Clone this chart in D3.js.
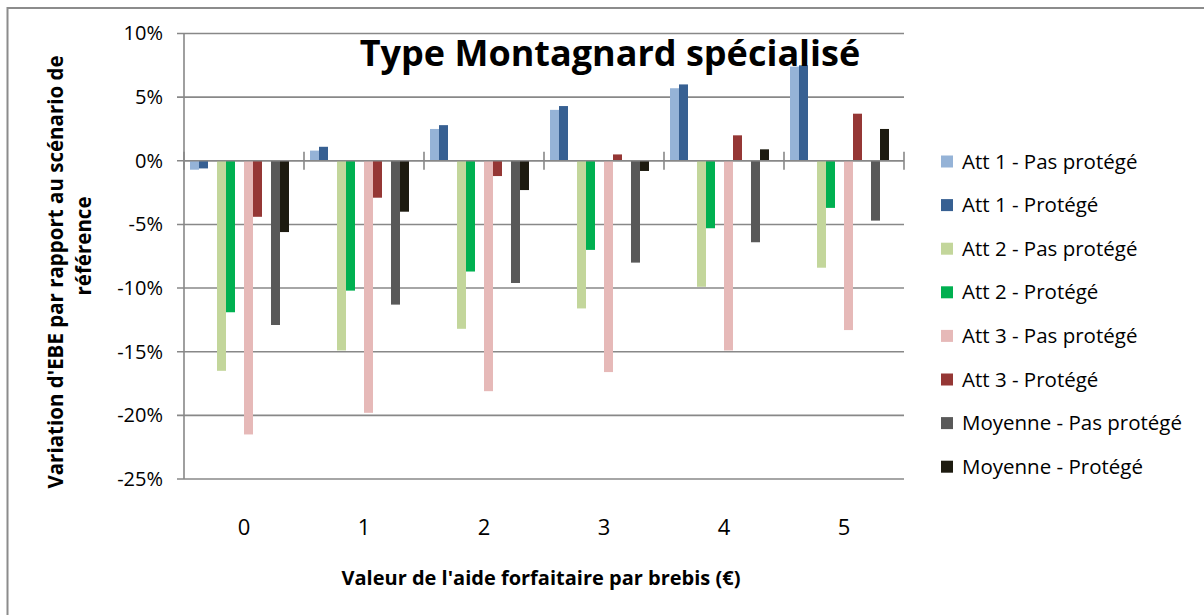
<!DOCTYPE html>
<html><head><meta charset="utf-8">
<script src="https://cdn.jsdelivr.net/npm/d3@7"></script>
<style>body{margin:0;background:#fff} text{font-family:"Open Sans",sans-serif;fill:#000}</style>
</head>
<body><svg id="c" width="1204" height="615"></svg>
<script>
const categories = ["0", "1", "2", "3", "4", "5"];
const seriesNames = ["Att 1 - Pas protégé", "Att 1 - Protégé", "Att 2 - Pas protégé", "Att 2 - Protégé",
  "Att 3 - Pas protégé", "Att 3 - Protégé", "Moyenne - Pas protégé", "Moyenne - Protégé"];
const att1Pas = [-0.7, 0.8, 2.5, 4.0, 5.7, 7.4];
const att1Pro = [-0.6, 1.1, 2.8, 4.3, 6.0, 7.5];
const att2Pas = [-16.5, -14.9, -13.2, -11.6, -9.9, -8.4];
const att2Pro = [-11.9, -10.2, -8.7, -7.0, -5.3, -3.7];
const att3Pas = [-21.5, -19.8, -18.1, -16.6, -14.9, -13.3];
const att3Pro = [-4.4, -2.9, -1.2, 0.5, 2.0, 3.7];
const moyPas = [-12.9, -11.3, -9.6, -8.0, -6.4, -4.7];
const moyPro = [-5.6, -4.0, -2.3, -0.8, 0.9, 2.5];
const yTicks = [10, 5, 0, -5, -10, -15, -20, -25];
const colors = ["#95B3D7", "#376092", "#C3D69B", "#00B050", "#E6B9B8", "#953735", "#595959", "#1D1B10"];
const titleText = "Type Montagnard spécialisé";
const xTitle = "Valeur de l'aide forfaitaire par brebis (€)";
const yTitle1 = "Variation d'EBE  par rapport au scénario de";
const yTitle2 = "référence";

const seriesValues = [att1Pas, att1Pro, att2Pas, att2Pro, att3Pas, att3Pro, moyPas, moyPro];

const svg = d3.select("#c");
const L = 184, R = 904, T = 33.5, B = 479;

// outer border
svg.append("rect").attr("x", 7.5).attr("y", 8).attr("width", 1400).attr("height", 800)
  .attr("fill", "#fff").attr("stroke", "#8c8c8c").attr("stroke-width", 2);

const y = d3.scaleLinear().domain([-25, 10]).range([B, T]);
const x0 = d3.scaleBand().domain(categories).range([L, R]);
// 12 slots: each pair of bars followed by an empty slot
const slot = i => Math.floor(i / 2) * 3 + (i % 2);
const x1 = d3.scaleBand().domain(d3.range(12)).range([0, x0.bandwidth()]).paddingOuter(0.667);

// gridlines
svg.append("g").selectAll("line").data(yTicks).join("line")
  .attr("x1", L - 7).attr("x2", R).attr("y1", d => y(d)).attr("y2", d => y(d))
  .attr("stroke", "#888").attr("stroke-width", 1.6);

// bars
const bars = [];
seriesValues.forEach((vals, si) => vals.forEach((v, ci) => bars.push({si, ci, v})));
svg.append("g").selectAll("rect").data(bars).join("rect")
  .attr("x", d => x0(categories[d.ci]) + x1(slot(d.si)))
  .attr("width", x1.bandwidth())
  .attr("y", d => y(Math.max(0, d.v)))
  .attr("height", d => Math.abs(y(d.v) - y(0)))
  .attr("fill", d => colors[d.si]);

// y axis
const yAxis = d3.axisLeft(y).tickValues(yTicks).tickFormat(d => d + "%").tickSize(0).tickPadding(21);
const gy = svg.append("g").attr("transform", `translate(${L},0)`).call(yAxis);
gy.select(".domain").remove();
gy.selectAll("text").style("font-size", "20px").style("font-family", "'Open Sans',sans-serif");
svg.append("line").attr("x1", L).attr("x2", L).attr("y1", T).attr("y2", B)
  .attr("stroke", "#888").attr("stroke-width", 1.6);

// x axis at 0
svg.append("line").attr("x1", L).attr("x2", R).attr("y1", y(0)).attr("y2", y(0))
  .attr("stroke", "#888").attr("stroke-width", 1.6);
const bounds = categories.map(c => x0(c)).concat([R]);
svg.append("g").selectAll("line").data(bounds).join("line")
  .attr("x1", d => d).attr("x2", d => d).attr("y1", y(0) - 9).attr("y2", y(0) + 9)
  .attr("stroke", "#888").attr("stroke-width", 1.6);
svg.append("g").selectAll("text").data(categories).join("text")
  .attr("x", d => x0(d) + x0.bandwidth() / 2).attr("y", 535)
  .attr("text-anchor", "middle").style("font-size", "22px").text(d => d);

// titles
svg.append("text").attr("x", 610).attr("y", 66).attr("text-anchor", "middle")
  .style("font-size", "36px").style("font-weight", "bold").text(titleText);
svg.append("text").attr("x", (L + R) / 2 - 3).attr("y", 585).attr("text-anchor", "middle")
  .style("font-size", "20px").style("font-weight", "bold").text(xTitle);
svg.append("text").attr("transform", "translate(63,272) rotate(-90)").attr("text-anchor", "middle")
  .style("font-size", "20.5px").style("font-weight", "bold").text(yTitle1);
svg.append("text").attr("transform", "translate(91,246) rotate(-90)").attr("text-anchor", "middle")
  .style("font-size", "20.5px").style("font-weight", "bold").text(yTitle2);

// legend
const lg = svg.append("g").selectAll("g").data(seriesNames).join("g")
  .attr("transform", (d, i) => `translate(941,${161.5 + i * 43.6})`);
lg.append("rect").attr("x", 0).attr("y", -6).attr("width", 12).attr("height", 12).attr("fill", (d, i) => colors[i]);
lg.append("text").attr("x", 21).attr("y", 0).attr("dy", "0.35em").style("font-size", "20.5px").text(d => d);
</script>
</body></html>
